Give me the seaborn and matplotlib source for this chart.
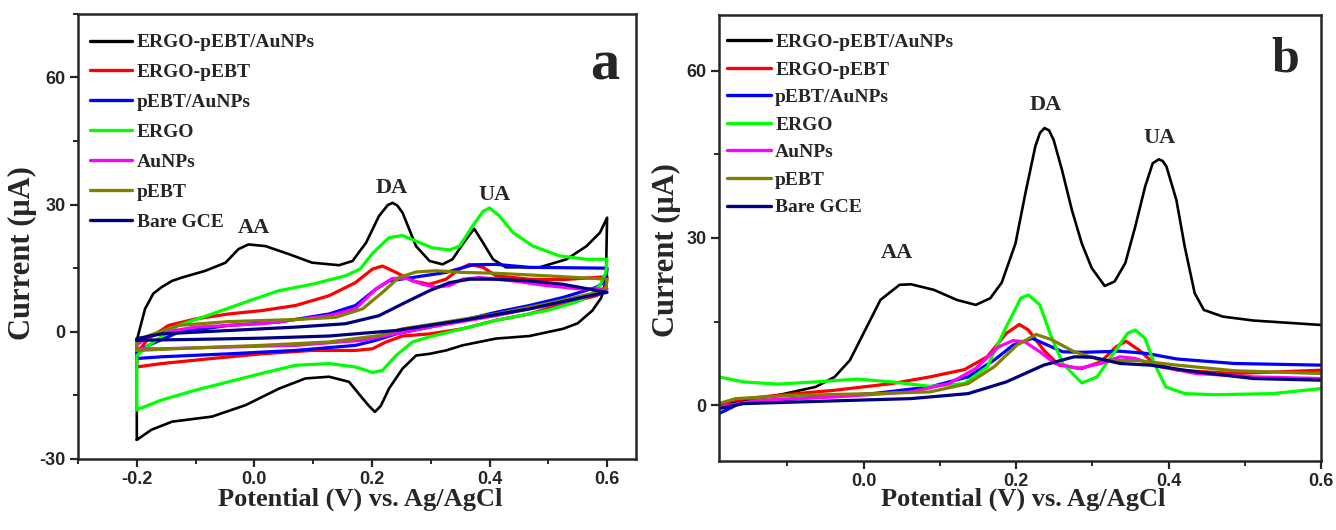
import numpy as np
import pandas as pd
import seaborn as sns
import matplotlib
matplotlib.use("Agg")
import matplotlib.pyplot as plt
from matplotlib.ticker import MultipleLocator

# names and colours of the electrodes (legend order)
electrodes = ["ERGO-pEBT/AuNPs", "ERGO-pEBT", "pEBT/AuNPs", "ERGO", "AuNPs", "pEBT", "Bare GCE"]
colours = ["#000000", "#FF0000", "#0000FF", "#00FF00", "#FF00FF", "#808000", "#000080"]

# ---- (a) cyclic voltammograms: forward scan then reverse scan ----
cv_black_v = [-0.200, -0.200, -0.186, -0.172, -0.157, -0.140, -0.123, -0.083, -0.049, -0.027, -0.010, 0.019,
              0.059, 0.098, 0.144, 0.167, 0.190, 0.212, 0.227, 0.235, 0.243, 0.252, 0.275, 0.298, 0.320, 0.337,
              0.360, 0.374, 0.389, 0.406, 0.428, 0.485, 0.531, 0.565, 0.588, 0.600,
              0.598, 0.590, 0.575, 0.550, 0.525, 0.468, 0.411, 0.354, 0.326, 0.298, 0.275, 0.252, 0.229,
              0.215, 0.205, 0.195, 0.184, 0.161, 0.127, 0.087, 0.042, -0.015, -0.072, -0.140, -0.175, -0.200]
cv_black_i = [-25.5, -2.0, 5.4, 9.0, 10.6, 12.0, 12.8, 14.4, 16.3, 19.5, 20.6, 20.2,
              18.3, 16.3, 15.7, 16.7, 21.0, 27.3, 29.9, 30.4, 29.8, 28.1, 20.2, 16.7, 15.9, 17.1,
              21.8, 24.3, 21.0, 17.1, 15.2, 15.2, 17.1, 20.2, 23.4, 26.9,
              12.0, 8.0, 5.0, 2.0, 0.7, -1.0, -1.6, -3.2, -4.4, -5.2, -5.6, -8.7, -13.4,
              -17.5, -18.9, -17.5, -15.7, -11.8, -10.6, -11.0, -13.4, -17.3, -20.0, -21.2, -23.1, -25.5]

cv_red_v = [-0.200, -0.200, -0.180, -0.146, -0.101, -0.044, 0.013, 0.070, 0.127, 0.172, 0.201, 0.218, 0.241,
            0.269, 0.298, 0.326, 0.349, 0.366, 0.389, 0.411, 0.468, 0.525, 0.600,
            0.598, 0.582, 0.525, 0.468, 0.411, 0.354, 0.298, 0.252, 0.224, 0.201, 0.172, 0.098, 0.013,
            -0.072, -0.158, -0.200]
cv_red_i = [-8.3, -5.0, -1.6, 1.5, 3.0, 4.2, 5.0, 6.2, 8.5, 11.6, 14.8, 15.5, 14.0,
            12.0, 11.2, 12.4, 14.8, 15.9, 15.2, 13.2, 12.4, 12.3, 13.0,
            10.0, 8.5, 6.6, 4.2, 2.7, 0.7, -0.5, -1.0, -2.4, -4.0, -4.4, -4.4, -5.2,
            -6.3, -7.5, -8.3]

cv_blue_v = [-0.200, -0.200, -0.180, -0.129, -0.044, 0.042, 0.127, 0.172, 0.207, 0.229, 0.269, 0.326, 0.372,
             0.411, 0.468, 0.600,
             0.598, 0.582, 0.525, 0.468, 0.411, 0.354, 0.298, 0.241, 0.207, 0.172, 0.070, -0.044, -0.158, -0.200]
cv_blue_i = [-6.3, -5.0, -3.2, -0.1, 1.5, 2.3, 4.2, 6.2, 10.1, 12.0, 12.8, 14.0, 15.8,
             15.9, 15.2, 15.0,
             12.0, 10.5, 8.1, 6.2, 4.6, 2.7, 1.1, -0.5, -2.0, -3.2, -4.4, -5.2, -5.9, -6.3]

cv_green_v = [-0.200, -0.200, -0.180, -0.129, -0.072, -0.015, 0.042, 0.098, 0.155, 0.180, 0.201, 0.229, 0.252,
              0.275, 0.303, 0.332, 0.349, 0.371, 0.389, 0.400, 0.417, 0.440, 0.474, 0.519, 0.565, 0.600,
              0.598, 0.588, 0.571, 0.548, 0.497, 0.411, 0.354, 0.298, 0.269, 0.241, 0.218, 0.201, 0.172,
              0.127, 0.070, 0.013, -0.044, -0.101, -0.158, -0.200]
cv_green_i = [-18.4, -5.6, -3.2, 1.5, 4.2, 7.0, 9.7, 11.2, 13.2, 14.8, 18.5, 22.2, 22.7,
              21.4, 19.8, 19.3, 20.2, 24.9, 28.4, 29.2, 27.3, 23.4, 20.2, 17.9, 17.1, 17.1,
              14.0, 11.0, 8.6, 7.0, 5.0, 2.7, 0.7, -1.2, -2.4, -5.6, -9.1, -9.6, -8.3,
              -7.5, -7.9, -9.8, -11.8, -13.8, -16.1, -18.4]

cv_magenta_v = [-0.200, -0.200, -0.169, -0.101, 0.013, 0.127, 0.172, 0.207, 0.235, 0.258, 0.286, 0.309, 0.332,
                0.354, 0.383, 0.440, 0.497, 0.554, 0.600,
                0.582, 0.525, 0.411, 0.298, 0.224, 0.184, 0.070, -0.044, -0.158, -0.200]
cv_magenta_i = [-4.0, -3.0, -0.5, 1.1, 1.9, 3.8, 5.4, 10.1, 12.6, 12.6, 11.2, 10.5, 10.9,
                12.4, 12.8, 12.0, 10.9, 10.1, 10.1,
                8.9, 7.0, 3.8, 1.1, -0.9, -2.0, -3.2, -3.6, -4.0, -4.0]

cv_olive_v = [-0.200, -0.200, -0.180, -0.129, -0.044, 0.070, 0.138, 0.184, 0.218, 0.246, 0.275, 0.309, 0.354,
              0.411, 0.497, 0.600,
              0.598, 0.590, 0.571, 0.497, 0.411, 0.326, 0.252, 0.212, 0.127, 0.013, -0.101, -0.200]
cv_olive_i = [-4.4, -2.5, -0.9, 1.5, 2.4, 2.9, 3.4, 5.4, 9.3, 12.8, 14.1, 14.4, 14.0,
              13.8, 13.2, 12.4,
              10.5, 9.5, 8.9, 6.6, 4.2, 2.3, 0.7, -0.9, -2.4, -3.2, -3.8, -4.4]

cv_navy_v = [-0.200, -0.200, -0.158, -0.044, 0.070, 0.155, 0.212, 0.258, 0.298, 0.332, 0.366, 0.411, 0.468,
             0.525, 0.600,
             0.571, 0.468, 0.354, 0.241, 0.127, 0.013, -0.101, -0.200]
cv_navy_i = [-2.0, -1.6, -0.5, 0.3, 1.1, 1.9, 3.8, 7.0, 9.7, 11.6, 12.4, 12.4, 12.0,
             11.2, 9.3,
             8.5, 5.4, 2.7, 0.3, -1.0, -1.5, -1.8, -2.0]

# ---- (b) differential pulse voltammograms ----
dpv_black_v = [-0.190, -0.113, -0.063, -0.038, -0.018, 0.002, 0.022, 0.047, 0.062, 0.092, 0.122, 0.147, 0.166,
               0.181, 0.199, 0.212, 0.225, 0.231, 0.237, 0.243, 0.249, 0.260, 0.273, 0.286, 0.299, 0.316,
               0.329, 0.343, 0.356, 0.369, 0.379, 0.387, 0.392, 0.397, 0.410, 0.421, 0.434, 0.446, 0.471,
               0.511, 0.600]
dpv_black_i = [0.0, 1.8, 3.3, 5.1, 8.1, 13.5, 18.9, 21.6, 21.7, 20.7, 18.9, 18.0, 19.2,
               22.0, 29.0, 38.0, 46.4, 48.8, 49.7, 49.3, 47.6, 42.2, 35.0, 29.0, 24.6, 21.4,
               22.2, 25.5, 32.0, 39.2, 43.4, 44.1, 43.8, 42.8, 36.8, 28.4, 20.1, 17.1, 15.9,
               15.2, 14.4]

dpv_red_v = [-0.190, -0.173, -0.113, -0.038, 0.037, 0.087, 0.132, 0.162, 0.187, 0.204, 0.216, 0.236, 0.256,
             0.286, 0.311, 0.331, 0.344, 0.361, 0.381, 0.411, 0.486, 0.600]
dpv_red_i = [-0.6, 0.9, 1.8, 2.7, 3.9, 5.1, 6.4, 8.7, 12.9, 14.5, 13.5, 9.9, 7.2,
             6.6, 7.8, 10.5, 11.5, 9.9, 7.5, 6.3, 5.7, 6.3]

dpv_blue_v = [-0.190, -0.163, -0.088, 0.012, 0.087, 0.137, 0.171, 0.196, 0.221, 0.241, 0.261, 0.286, 0.336,
              0.371, 0.411, 0.486, 0.600]
dpv_blue_i = [-1.5, 0.3, 1.2, 2.1, 3.3, 5.1, 8.1, 10.8, 12.0, 10.8, 9.6, 9.5, 9.7,
              9.3, 8.3, 7.5, 7.2]

dpv_green_v = [-0.190, -0.158, -0.113, -0.063, -0.008, 0.037, 0.087, 0.132, 0.162, 0.187, 0.206, 0.216, 0.231,
               0.246, 0.261, 0.286, 0.306, 0.326, 0.346, 0.356, 0.369, 0.381, 0.396, 0.421, 0.461, 0.536, 0.600]
dpv_green_i = [5.1, 4.2, 3.8, 4.2, 4.7, 4.2, 3.4, 3.9, 6.9, 14.1, 19.2, 19.8, 18.0,
               12.3, 7.5, 4.0, 5.1, 9.0, 12.9, 13.5, 12.0, 7.5, 3.3, 2.1, 1.9, 2.1, 3.0]

dpv_magenta_v = [-0.190, -0.138, -0.038, 0.062, 0.112, 0.147, 0.177, 0.196, 0.211, 0.231, 0.251, 0.281, 0.311,
                 0.336, 0.356, 0.386, 0.436, 0.511, 0.600]
dpv_magenta_i = [-0.3, 0.9, 1.5, 2.4, 3.9, 6.6, 10.5, 11.6, 11.4, 9.6, 7.5, 6.6, 7.5,
                 8.7, 8.4, 7.0, 5.7, 5.1, 4.8]

dpv_olive_v = [-0.190, -0.168, -0.088, 0.012, 0.087, 0.137, 0.171, 0.201, 0.226, 0.246, 0.276, 0.311, 0.361,
               0.411, 0.486, 0.600]
dpv_olive_i = [0.3, 1.2, 1.8, 2.1, 2.4, 3.9, 6.9, 10.8, 12.7, 11.8, 9.6, 8.1, 8.0,
               7.2, 6.2, 5.7]

dpv_navy_v = [-0.190, -0.158, -0.038, 0.062, 0.137, 0.187, 0.236, 0.276, 0.301, 0.336, 0.376, 0.436, 0.511, 0.600]
dpv_navy_i = [-0.6, 0.3, 0.8, 1.2, 2.1, 4.2, 7.2, 8.7, 8.6, 7.5, 7.2, 6.0, 4.8, 4.5]

cv_curves = [(cv_black_v, cv_black_i), (cv_red_v, cv_red_i), (cv_blue_v, cv_blue_i), (cv_green_v, cv_green_i),
             (cv_magenta_v, cv_magenta_i), (cv_olive_v, cv_olive_i), (cv_navy_v, cv_navy_i)]
dpv_curves = [(dpv_black_v, dpv_black_i), (dpv_red_v, dpv_red_i), (dpv_blue_v, dpv_blue_i),
              (dpv_green_v, dpv_green_i), (dpv_magenta_v, dpv_magenta_i), (dpv_olive_v, dpv_olive_i),
              (dpv_navy_v, dpv_navy_i)]


def long_table(curves):
    rows = []
    for name, (v, i) in zip(electrodes, curves):
        rows.append(pd.DataFrame({"potential": v, "current": i, "electrode": name}))
    return pd.concat(rows, ignore_index=True)


df_cv = long_table(cv_curves)
df_dpv = long_table(dpv_curves)

sns.set_style("ticks")
plt.rcParams["font.family"] = ["Liberation Sans", "DejaVu Sans"]
plt.rcParams["font.weight"] = "bold"
plt.rcParams["xtick.labelsize"] = 13
plt.rcParams["ytick.labelsize"] = 13
plt.rcParams["axes.unicode_minus"] = False

serif = dict(family="Liberation Serif", weight="bold")

fig = plt.figure(figsize=(13.36, 5.30), dpi=100)
ax_a = fig.add_axes([0.0584, 0.134, 0.418, 0.840])
ax_b = fig.add_axes([0.538, 0.130, 0.451, 0.842])

for ax, df in [(ax_a, df_cv), (ax_b, df_dpv)]:
    for name, col in zip(electrodes, colours):
        sub = df[df["electrode"] == name]
        sns.lineplot(data=sub, x="potential", y="current", sort=False, estimator=None,
                     color=col, lw=1.9 if col == "#000000" else 2.3, label=name, ax=ax)

# panel a axes
ax_a.set_xlim(-0.3, 0.65)
ax_a.set_ylim(-30, 75)
ax_a.xaxis.set_minor_locator(MultipleLocator(0.1))
ax_a.yaxis.set_major_locator(MultipleLocator(30))
ax_a.yaxis.set_minor_locator(MultipleLocator(15))
ax_a.set_xticks([-0.2, 0.0, 0.2, 0.4, 0.6])
ax_a.xaxis.set_major_formatter(plt.FuncFormatter(lambda v, p: f"{v:.1f}"))

# panel b axes
ax_b.set_xlim(-0.19, 0.6)
ax_b.set_ylim(-10, 70)
ax_b.xaxis.set_major_locator(MultipleLocator(0.2))
ax_b.xaxis.set_minor_locator(MultipleLocator(0.1))
ax_b.yaxis.set_major_locator(MultipleLocator(30))
ax_b.yaxis.set_minor_locator(MultipleLocator(15))
ax_b.xaxis.set_major_formatter(plt.FuncFormatter(lambda v, p: f"{v:.1f}"))

for ax in (ax_a, ax_b):
    for sp in ax.spines.values():
        sp.set_linewidth(1.8)
    ax.tick_params(which="major", length=5.8, width=1.6, pad=3)
    ax.tick_params(which="minor", length=3.6, width=1.4)
    ax.set_xlabel("Potential (V) vs. Ag/AgCl", fontsize=19, **serif)
    ax.set_ylabel("Current (μA)", fontsize=22, **serif)

ax_a.xaxis.set_label_coords(0.505, -0.065)
ax_b.xaxis.set_label_coords(0.506, -0.060)
ax_a.yaxis.set_label_coords(-0.073, 0.463)
ax_b.yaxis.set_label_coords(-0.062, 0.473)

leg_font = dict(family="Liberation Serif", weight="bold", size=14)
ax_a.legend(loc="upper left", bbox_to_anchor=(0.0215, 0.955), frameon=False, prop=leg_font,
            handlelength=2.15, handletextpad=0.26, labelspacing=0.63, borderaxespad=0, borderpad=0)
ax_b.legend(loc="upper left", bbox_to_anchor=(0.013, 0.958), frameon=False, prop=leg_font,
            handlelength=2.3, handletextpad=0.2, labelspacing=0.51, borderaxespad=0, borderpad=0)
for leg in (ax_a.get_legend(), ax_b.get_legend()):
    for h in leg.legend_handles:
        h.set_linewidth(2.4)

# peak labels
for txt, x, y in [("AA", 0.0, 24.4), ("DA", 0.234, 34.0), ("UA", 0.409, 32.3)]:
    ax_a.text(x, y, txt, ha="center", va="center", fontsize=16, **serif)
for txt, x, y in [("AA", 0.043, 27.3), ("DA", 0.239, 53.9), ("UA", 0.388, 47.9)]:
    ax_b.text(x, y, txt, ha="center", va="center", fontsize=16, **serif)

ax_a.text(0.943, 0.883, "a", transform=ax_a.transAxes, ha="center", va="center", fontsize=42, **serif)
ax_b.text(0.940, 0.901, "b", transform=ax_b.transAxes, ha="center", va="center", fontsize=36, **serif)

fig.savefig("out.png", dpi=100)
